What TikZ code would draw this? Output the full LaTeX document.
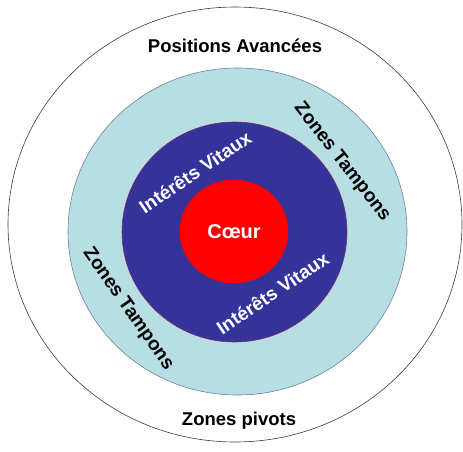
\documentclass[tikz,border=0pt]{standalone}
\usepackage{fontspec}
\setmainfont{Liberation Sans}
\usepackage{tikz}
\usetikzlibrary{positioning, shapes.geometric}
\usepackage{xcolor}
\definecolor{Red}{RGB}{255, 0, 0}
\definecolor{LiteBlue}{RGB}{182, 222, 227}
\definecolor{DeepBlue}{RGB}{51, 51, 153}
\definecolor{EdgeGray}{RGB}{60, 60, 60}
\definecolor{EdgeBlue}{RGB}{110, 130, 165}
\definecolor{EdgePurple}{RGB}{130, 40, 110}
\tikzset{%
  ring/.style={%
    ellipse,%
    inner sep=0pt,%
    line width=0.6pt,%
  },
  ring_outer/.style={%
    ring,%
    draw=EdgeGray,%
    fill=white,%
    minimum width=454pt,%
    minimum height=435pt,%
  },
  ring_buffer/.style={%
    ring,%
    draw=EdgeBlue,%
    fill=LiteBlue,%
    minimum width=339pt,%
    minimum height=327pt,%
  },
  ring_vital/.style={%
    ring,%
    draw=EdgePurple,%
    fill=DeepBlue,%
    minimum width=225pt,%
    minimum height=220pt,%
  },
  ring_core/.style={%
    ring,%
    draw=Red,%
    fill=Red,%
    minimum width=108pt,%
    minimum height=103pt,%
    text=white,%
    font={\fontsize{20}{24}\selectfont\bfseries},%
  },
  zone_label/.style={%
    inner sep=0pt,%
    font={\fontsize{18.5}{22}\selectfont\bfseries},%
  },
  ring_label/.style={%
    inner sep=0pt,%
    font={\fontsize{19}{23}\selectfont\bfseries},%
  },
}

\begin{document}
\begin{tikzpicture}[x=1pt, y=1pt]
          \useasboundingbox (0,0) rectangle (463,451);

          \node [ring_outer] (Outer) at (235,226.5) {};
          \node [ring_buffer] (Buffer) at (237.5,219.5) {};
          \node [ring_vital] (Vital) at (234.5,219) {};
          \node [ring_core] (Core) at (234,219.5) {C\oe ur};

          % outer ring
          \node [zone_label, below = 32pt of Outer.north] (Advanced) {Positions Avancées};
          \node [zone_label, above = 13pt of Outer.south, xshift=4pt] (Pivots) {Zones pivots};

          % buffer ring
          \node [ring_label, rotate=-52] (BufferNE) at (342,289) {Zones Tampons};
          \node [ring_label, rotate=-55] (BufferSW) at (128,142) {Zones Tampons};

          % vital ring
          \node [ring_label, text=white, rotate=34] (VitalNW) at (195,279) {Intérêts Vitaux};
          \node [ring_label, text=white, rotate=34] (VitalSE) at (272.5,158) {Intérêts Vitaux};
        \end{tikzpicture}
\end{document}
